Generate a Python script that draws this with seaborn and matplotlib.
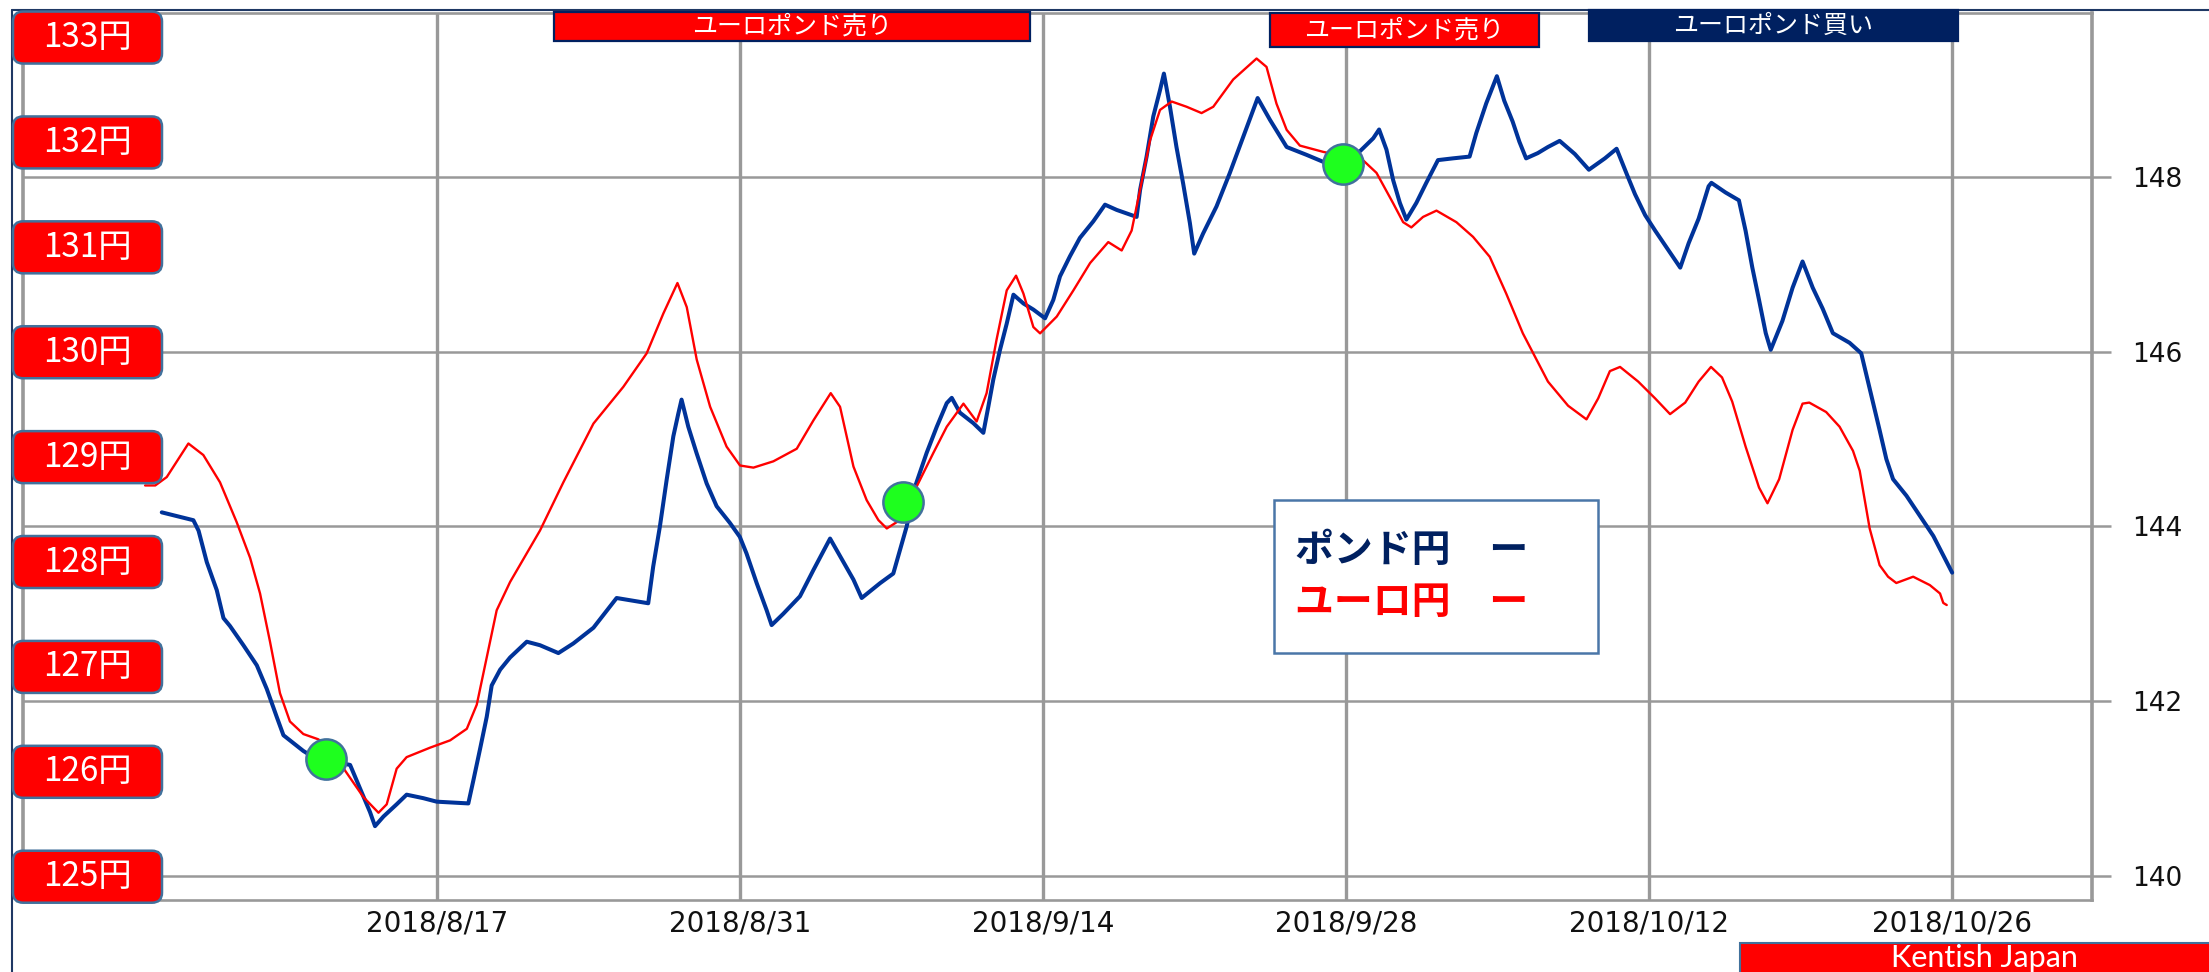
import numpy as np
import pandas as pd
import matplotlib
matplotlib.use("Agg")
import matplotlib.pyplot as plt
import matplotlib.transforms as mtransforms
from matplotlib.patches import FancyBboxPatch, Rectangle
from matplotlib.lines import Line2D
import seaborn as sns

# --- data --------------------------------------------------------------
# x values are days counted from 2018/8/17
BASE = pd.Timestamp("2018-08-17")

gbp_day = [
    -12.70, -11.24, -11.00, -10.62, -10.16, -9.85, -9.55, -8.93, -8.31, -7.85,
    -7.39, -7.08, -6.16, -5.70, -4.00, -3.54, -3.08, -2.85, -2.46, -1.85,
    -1.39, -0.62, 0.00, 1.46, 1.69, 2.00, 2.31, 2.54, 2.93, 3.39,
    4.16, 4.77, 5.62, 6.31, 7.24,
    8.31, 9.77, 10.00, 10.31, 10.62, 10.93, 11.16, 11.31, 11.62, 12.00,
    12.47, 12.93, 13.54, 14.00, 14.31, 14.78, 15.24, 15.47, 16.01, 16.78,
    17.40, 18.17, 18.63, 19.25, 19.63, 20.48, 21.09, 21.40, 21.71, 22.09,
    22.63, 23.10, 23.56, 23.79, 24.17, 24.79, 25.25, 25.48, 25.71, 26.02,
    26.33, 26.64, 27.10, 27.56, 28.10,
    28.48, 28.79, 29.25, 29.71, 30.33, 30.87, 31.41, 32.33, 32.49, 32.79,
    33.10, 33.41, 33.59, 33.87, 34.17, 34.48, 34.79, 34.99, 35.40, 36.02,
    36.63, 37.26, 37.92, 38.49, 39.26, 40.18, 40.95, 42.64, 43.26, 43.53,
    43.87, 44.18, 44.49, 44.79, 45.25, 45.71, 46.25, 46.94, 47.71, 48.02,
    48.48, 48.97,
    49.31, 49.70, 50.01, 50.32, 50.86, 51.33, 51.87, 52.57, 53.22, 53.96,
    54.50, 54.97, 55.35, 55.82, 56.29, 57.06, 57.44, 57.83, 58.29, 58.75,
    58.88, 59.53, 60.15, 60.46, 60.77, 61.08, 61.39, 61.62, 62.16, 62.63,
    63.09, 63.56, 64.02, 64.49, 65.26, 65.80, 66.11, 66.34, 66.65, 66.96,
    67.27, 67.89, 68.51, 69.13, 70.00,
]
gbp_rate = [
    144.16, 144.07, 143.95, 143.59, 143.27, 142.95, 142.86, 142.64, 142.41, 142.14,
    141.82, 141.61, 141.43, 141.36, 141.27, 141.00, 140.73, 140.57, 140.68, 140.82,
    140.93, 140.89, 140.85, 140.83, 141.09, 141.45, 141.82, 142.18, 142.36, 142.50,
    142.68, 142.64, 142.55, 142.66, 142.84,
    143.18, 143.12, 143.54, 144.00, 144.53, 145.03, 145.29, 145.45, 145.14, 144.84,
    144.49, 144.23, 144.04, 143.88, 143.69, 143.35, 143.04, 142.87, 143.00, 143.20,
    143.50, 143.86, 143.66, 143.39, 143.18, 143.35, 143.46, 143.73, 144.00, 144.45,
    144.84, 145.14, 145.41, 145.47, 145.30, 145.18, 145.07, 145.37, 145.68, 146.02,
    146.32, 146.65, 146.55, 146.48, 146.38,
    146.59, 146.86, 147.09, 147.30, 147.49, 147.68, 147.62, 147.54, 147.85, 148.23,
    148.69, 148.99, 149.18, 148.80, 148.34, 147.92, 147.47, 147.12, 147.35, 147.66,
    148.04, 148.46, 148.90, 148.65, 148.34, 148.25, 148.17, 148.29, 148.44, 148.54,
    148.31, 147.96, 147.70, 147.51, 147.70, 147.93, 148.19, 148.21, 148.23, 148.50,
    148.84, 149.15,
    148.87, 148.63, 148.40, 148.21, 148.27, 148.34, 148.41, 148.26, 148.08, 148.21,
    148.32, 148.03, 147.80, 147.56, 147.38, 147.10, 146.96, 147.24, 147.52, 147.89,
    147.93, 147.82, 147.73, 147.38, 146.96, 146.59, 146.21, 146.02, 146.35, 146.73,
    147.03, 146.73, 146.49, 146.21, 146.10, 145.98, 145.66, 145.42, 145.10, 144.77,
    144.54, 144.35, 144.12, 143.89, 143.47,
]

eur_day = [
    -13.47, -13.00, -12.47, -11.47, -10.78, -10.01, -9.24, -8.62, -8.16, -7.70,
    -7.24, -6.78, -6.16, -5.47, -4.93, -4.16, -3.39, -2.69, -2.31, -1.85,
    -1.39, -0.31, 0.62, 1.39, 1.85, 2.31, 2.77, 3.39, 4.77, 5.85,
    7.24,
    8.62, 9.70, 10.47, 11.12, 11.55, 12.01, 12.63, 13.39, 14.01, 14.63,
    15.55, 16.63, 17.40, 18.20, 18.63, 19.25, 19.86, 20.40, 20.79, 21.40,
    22.17, 22.94, 23.56, 24.33, 24.94, 25.40, 25.86, 26.33, 26.76, 27.10,
    27.56, 27.87,
    28.64, 29.41, 30.18, 31.02, 31.64, 32.10, 32.49, 32.95, 33.41, 33.95,
    34.64, 35.33, 35.87, 36.79, 37.87, 38.33, 38.79, 39.26, 39.87, 40.95,
    42.79, 43.41, 44.18, 44.64, 45.02, 45.56, 46.18, 47.10, 47.87, 48.64,
    49.40, 50.17,
    51.33, 52.26, 53.11, 53.65, 54.19, 54.66, 55.50, 56.28, 56.97, 57.67,
    58.29, 58.86, 59.37, 59.84, 60.46, 61.08, 61.47, 62.01, 62.63, 63.09,
    63.40, 64.18, 64.80, 65.42, 65.73, 66.19, 66.65, 67.04, 67.42, 68.20,
    68.97, 69.44, 69.59, 69.75,
]
eur_rate = [
    128.73, 128.73, 128.81, 129.13, 129.02, 128.76, 128.38, 128.04, 127.70, 127.24,
    126.75, 126.48, 126.36, 126.31, 126.22, 125.99, 125.76, 125.61, 125.69, 126.03,
    126.14, 126.23, 126.30, 126.41, 126.64, 127.09, 127.54, 127.81, 128.30, 128.76,
    129.32,
    129.67, 129.99, 130.37, 130.66, 130.43, 129.93, 129.48, 129.10, 128.92, 128.90,
    128.96, 129.08, 129.35, 129.61, 129.48, 128.91, 128.59, 128.40, 128.32, 128.40,
    128.72, 129.04, 129.29, 129.51, 129.34, 129.61, 130.12, 130.59, 130.73, 130.56,
    130.24, 130.18,
    130.34, 130.59, 130.85, 131.05, 130.97, 131.16, 131.55, 132.02, 132.31, 132.39,
    132.34, 132.28, 132.34, 132.60, 132.80, 132.72, 132.37, 132.12, 131.97, 131.91,
    131.83, 131.71, 131.42, 131.24, 131.19, 131.29, 131.35, 131.24, 131.10, 130.91,
    130.56, 130.18,
    129.72, 129.49, 129.36, 129.56, 129.82, 129.86, 129.72, 129.56, 129.41, 129.52,
    129.72, 129.86, 129.76, 129.53, 129.10, 128.71, 128.56, 128.79, 129.26, 129.51,
    129.52, 129.43, 129.29, 129.06, 128.87, 128.32, 127.97, 127.86, 127.80, 127.86,
    127.78, 127.70, 127.61, 127.59,
]

# green signal dots (on the euro scale)
signal_day = [-5.11, 21.52, 41.85]
signal_eur = [126.12, 128.57, 131.79]

tick_dates = ["2018-08-17", "2018-08-31", "2018-09-14", "2018-09-28", "2018-10-12", "2018-10-26"]
tick_labels = ["2018/8/17", "2018/8/31", "2018/9/14", "2018/9/28", "2018/10/12", "2018/10/26"]
gbp_ticks = [140, 142, 144, 146, 148]
yen_labels = [125, 126, 127, 128, 129, 130, 131, 132, 133]

banners = [
    ("ユーロポンド売り", "#FF0000"),
    ("ユーロポンド売り", "#FF0000"),
    ("ユーロポンド買い", "#002060"),
]

# --- layout -------------------------------------------------------------
W, H = 2209, 972
NAVY = "#002060"
LINE_BLUE = "#003399"
GRID = "#999999"
EDGE = "#41719C"

sns.set_theme(style="white")
plt.rcParams["font.family"] = ["Noto Sans CJK JP", "DejaVu Sans"]

fig = plt.figure(figsize=(W / 100, H / 100), dpi=100, facecolor="white")
ax = fig.add_axes([23 / W, (H - 900) / H, (2092 - 23) / W, (900 - 13) / H])

gbp = pd.DataFrame({"date": BASE + pd.to_timedelta(gbp_day, unit="D"), "rate": gbp_rate})
eur = pd.DataFrame({"date": BASE + pd.to_timedelta(eur_day, unit="D"), "rate": eur_rate})
sig = pd.DataFrame({"date": BASE + pd.to_timedelta(signal_day, unit="D"), "rate": signal_eur})

sns.lineplot(data=gbp, x="date", y="rate", ax=ax, color=LINE_BLUE, linewidth=2.9,
             sort=False, estimator=None)

ax2 = ax.twinx()
sns.lineplot(data=eur, x="date", y="rate", ax=ax2, color="#FF0000", linewidth=1.7,
             sort=False, estimator=None)
ax2.scatter(sig["date"], sig["rate"], s=840, c="#1EFF1E", edgecolors=EDGE,
            linewidths=1.8, zorder=6)

x0 = BASE - pd.Timedelta(days=19.11)
x1 = BASE + pd.Timedelta(days=76.46)
ax.set_xlim(x0, x1)
ax.set_ylim(139.725, 149.873)
ax2.set_ylim(124.778, 133.234)

ax.set_xticks(pd.to_datetime(tick_dates))
ax.set_xticklabels(tick_labels, fontfamily="DejaVu Sans")
ax.set_yticks(gbp_ticks)
ax.set_yticklabels([str(t) for t in gbp_ticks], fontfamily="DejaVu Sans")
ax.yaxis.tick_right()
ax.tick_params(axis="x", length=0, pad=7, labelsize=20, labelcolor="#111111")
ax.tick_params(axis="y", right=True, left=False, length=13.7, width=1.8,
               color=GRID, pad=15, labelsize=19, labelcolor="#111111")
ax2.set_yticks([])
for a in (ax, ax2):
    a.set_xlabel("")
    a.set_ylabel("")

ax.set_axisbelow(True)
ax.xaxis.grid(True, color=GRID, linewidth=2.4)
ax.yaxis.grid(True, color=GRID, linewidth=1.8)
for side in ("left", "right"):
    ax.spines[side].set_color(GRID)
    ax.spines[side].set_linewidth(2.6)
for side in ("top", "bottom"):
    ax.spines[side].set_color(GRID)
    ax.spines[side].set_linewidth(1.9)
for s in ax2.spines.values():
    s.set_visible(False)

px = mtransforms.IdentityTransform()

# outer navy border (left and top)
fig.add_artist(Line2D([12, W], [H - 10, H - 10], color="#1F3864", lw=1.5, transform=px, zorder=4))
fig.add_artist(Line2D([12, 12], [0, H - 10], color="#1F3864", lw=1.5, transform=px, zorder=4))

# red yen labels down the left side, placed on the euro scale
for v in yen_labels:
    yc = ax2.transData.transform((0, v))[1]
    box = FancyBboxPatch((13, yc - 26), 149, 52,
                         boxstyle="round,pad=0,rounding_size=10",
                         facecolor="#FF0000", edgecolor=EDGE, lw=1.8,
                         transform=px, zorder=7)
    fig.add_artist(box)
    fig.text(87, yc, f"{v}円", color="white", fontsize=24, ha="center", va="center",
             transform=px, zorder=8)

# banners along the top
banner_boxes = [(554, 12, 1030, 41), (1270, 13, 1539, 47), (1589, 10, 1958, 41)]
for (label, face), (bx0, by0, bx1, by1) in zip(banners, banner_boxes):
    fig.add_artist(Rectangle((bx0, H - by1), bx1 - bx0, by1 - by0, facecolor=face,
                             edgecolor=NAVY, lw=1.6, transform=px, zorder=7))
    fig.text((bx0 + bx1) / 2, H - (by0 + by1) / 2, label, color="white", fontsize=18,
             ha="center", va="center", transform=px, zorder=8)

# legend box
fig.add_artist(Rectangle((1274, H - 653), 324, 153, facecolor="white",
                         edgecolor="#4A76A8", lw=1.8, transform=px, zorder=7))
fig.text(1295, H - 550, "ポンド円　ー", color=NAVY, fontsize=28, fontweight="bold",
         ha="left", va="center", transform=px, zorder=8)
fig.text(1295, H - 602, "ユーロ円　ー", color="#FF0000", fontsize=28, fontweight="bold",
         ha="left", va="center", transform=px, zorder=8)

# credit box
fig.add_artist(Rectangle((1740, -5), W - 1740 + 5, H - 943 + 5, facecolor="#FF0000",
                         edgecolor=EDGE, lw=1.5, transform=px, zorder=7))
fig.text(1984, H - 958, "Kentish Japan", color="white", fontsize=22, fontfamily="Lato",
         ha="center", va="center", transform=px, zorder=8)

fig.savefig("out.png", dpi=100, facecolor="white")
